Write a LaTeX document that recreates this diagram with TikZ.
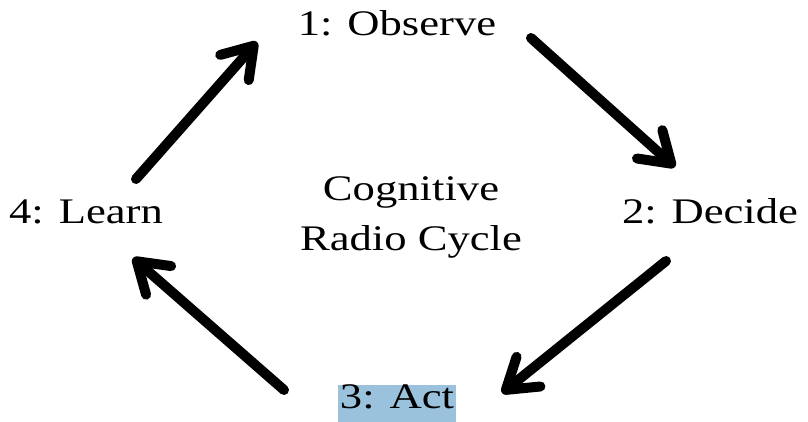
\documentclass[tikz,border=0pt]{standalone}
\usepackage{fontspec}
\setmainfont[FakeStretch=1.24]{Liberation Serif}
\usetikzlibrary{arrows.meta,positioning}
\definecolor{acthighlight}{RGB}{155,194,221}

\begin{document}
\begin{tikzpicture}[x=1pt,y=-1pt,line cap=round,line join=round,
 stage/.style={font=\fontsize{36}{50}\selectfont,inner sep=0pt,anchor=base},
 cyclearrow/.style={line width=10pt,-{Straight Barb[length=29pt,width=38pt,round]}}]
 \useasboundingbox (0,0) rectangle (808,421);
 % the four stages
 \node[stage] (observe) at (397,35) {1: Observe};
 \node[stage] (decide) at (710,223) {2: Decide};
 \node[stage,fill=acthighlight,text height=23pt,text depth=14pt,inner xsep=2pt]
  (act) at (397,408) {3: Act};
 \node[stage] (learn) at (86,223) {4: Learn};
 \node[stage,anchor=center,align=center] (cycle) at (411,217)
  {Cognitive\\Radio Cycle};
 % arrow ends
 \coordinate (learn-out) at (136,179); \coordinate (observe-in) at (257,42);
 \coordinate (observe-out) at (531,38); \coordinate (decide-in) at (675,167);
 \coordinate (decide-out) at (666,261); \coordinate (act-in) at (502,393);
 \coordinate (act-out) at (284,390); \coordinate (learn-in) at (133,258);
 \draw[cyclearrow] (learn-out)--(observe-in);
 \draw[cyclearrow] (observe-out)--(decide-in);
 \draw[cyclearrow] (decide-out)--(act-in);
 \draw[cyclearrow] (act-out)--(learn-in);
\end{tikzpicture}
\end{document}
